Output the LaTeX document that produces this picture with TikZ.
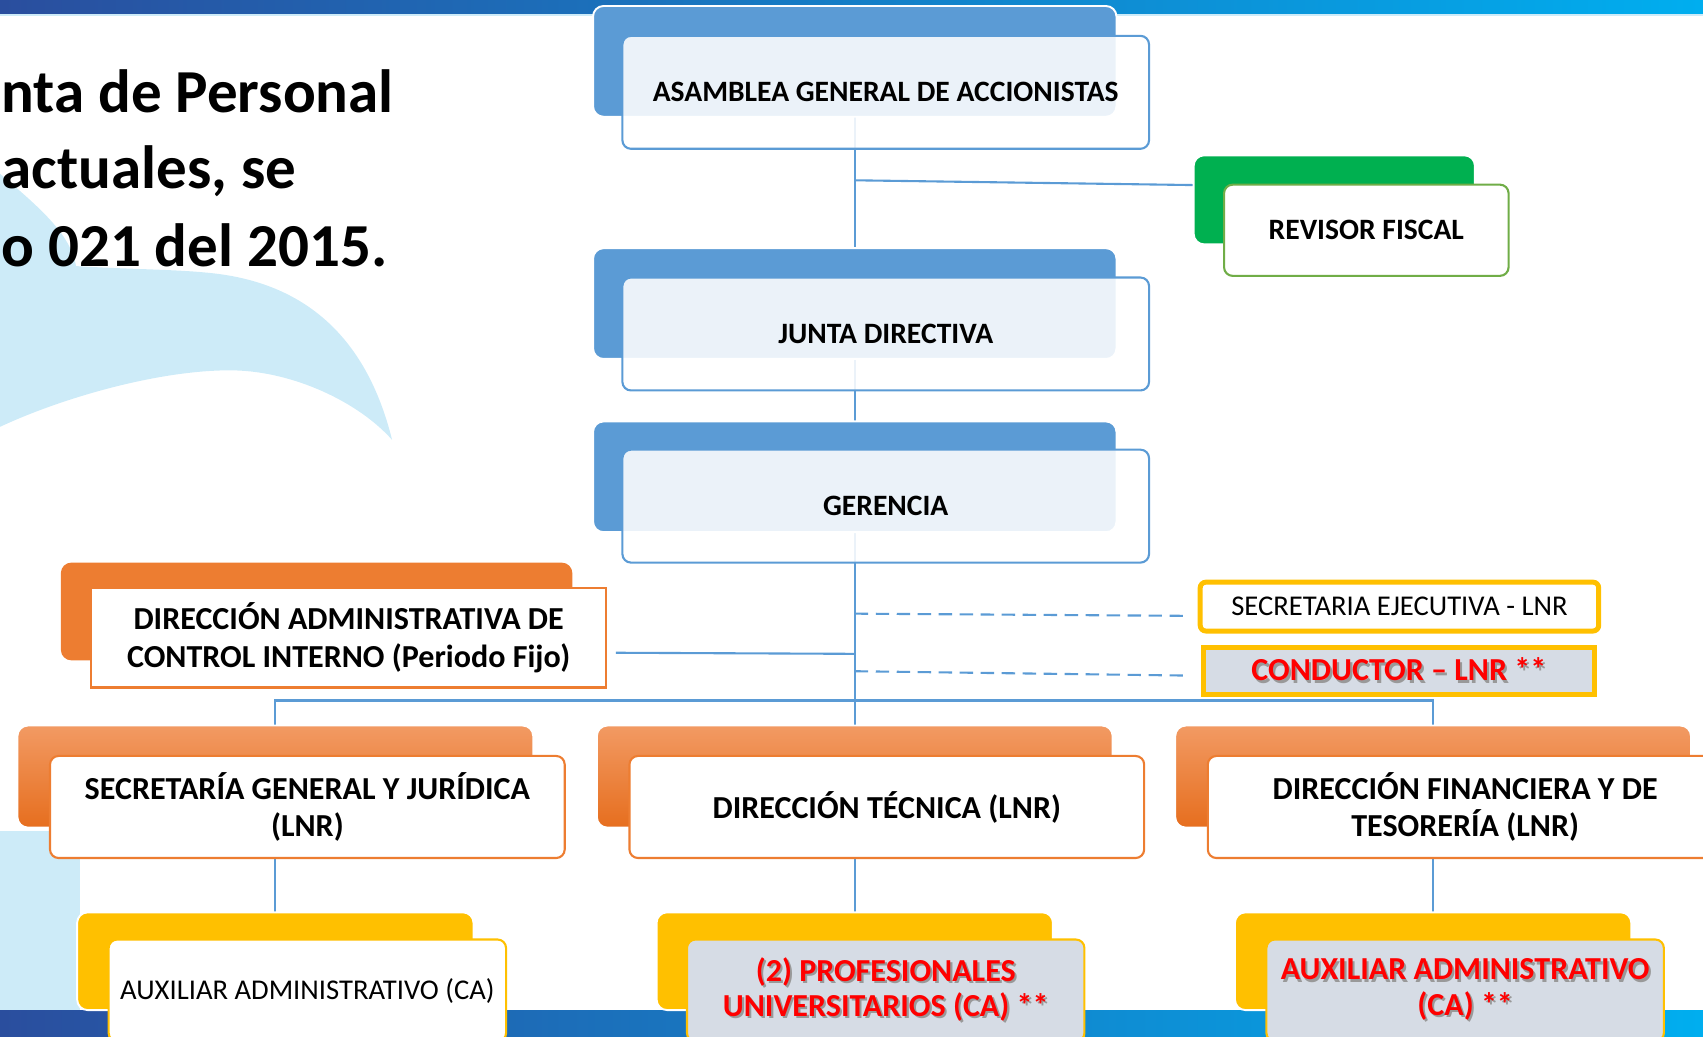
\documentclass[tikz,border=0pt]{standalone}
\usepackage{fontspec}
\setmainfont{Carlito}
\usetikzlibrary{positioning,backgrounds}
\definecolor{azul}{HTML}{5B9BD5}
\definecolor{verde}{HTML}{00B050}
\definecolor{verdeclaro}{HTML}{70AD47}
\definecolor{naranja}{HTML}{ED7D31}
\definecolor{naranjaclaro}{HTML}{F29A63}
\definecolor{naranjaoscuro}{HTML}{E66E1E}
\definecolor{amarillo}{HTML}{FFC000}
\definecolor{grisazul}{HTML}{D6DCE5}
\definecolor{rojo}{HTML}{FF0000}
\definecolor{celeste}{HTML}{CDEBF8}
\definecolor{bandaosc}{HTML}{2A4E9E}
\definecolor{bandaclara}{HTML}{00AEEF}
\newcommand{\caja}{\fontsize{15.5}{18.5}\selectfont\bfseries}
\newcommand{\cajanar}{\fontsize{16.8}{19}\selectfont\bfseries}
\newcommand{\cajareg}{\fontsize{15}{18}\selectfont}
\newcommand{\cajaroja}{\fontsize{16.8}{18.5}\selectfont\bfseries}
\newcommand{\sombra}[1]{\makebox[0pt][l]{\kern1.1pt\raisebox{-1.1pt}{\textcolor{black!40}{#1}}}#1}
\tikzset{
	conector/.style={draw=azul,line width=1.1pt},
	punteada/.style={dash pattern=on 7pt off 4pt},
	fondo/.style={rounded corners=5.5pt,draw=white,line width=1pt,inner sep=0pt,outer sep=0pt},
	frente/.style={rounded corners=4.5pt,line width=1.1pt,inner sep=0pt,outer sep=0pt,align=center,font=\caja},
	bluebk/.style={fondo,fill=azul,minimum width=9.64cm,minimum height=2.04cm},
	bluefr/.style={frente,draw=azul,fill=white,fill opacity=0.88,text opacity=1,minimum width=9.7cm,minimum height=2.08cm},
	greenbk/.style={fondo,fill=verde,minimum width=5.18cm,minimum height=1.64cm},
	greenfr/.style={frente,draw=verdeclaro,fill=white,minimum width=5.24cm,minimum height=1.68cm},
	ciback/.style={fondo,draw=none,fill=naranja,minimum width=9.42cm,minimum height=1.8cm},
	cifront/.style={frente,rounded corners=0pt,draw=naranja,fill=white,minimum width=9.48cm,minimum height=1.84cm,font=\fontsize{16.8}{20}\selectfont\bfseries},
	orbk/.style={fondo,top color=naranjaclaro,bottom color=naranjaoscuro,minimum width=9.5cm,minimum height=1.88cm},
	orfr/.style={frente,draw=naranja,fill=white,minimum width=9.48cm,minimum height=1.88cm,font=\cajanar},
	ylbk/.style={fondo,fill=amarillo,minimum width=7.3cm,minimum height=1.8cm},
	ylfr/.style={frente,draw=amarillo,fill=white,minimum width=7.32cm,minimum height=1.88cm,font=\cajareg},
	ylgr/.style={frente,draw=amarillo,fill=grisazul,text=rojo,minimum width=7.32cm,minimum height=1.88cm,font=\cajaroja},
	secbox/.style={frente,rounded corners=3pt,draw=amarillo,line width=2.6pt,fill=white,minimum width=7.34cm,minimum height=0.9cm,font=\cajareg},
	condbox/.style={frente,rounded corners=0pt,draw=amarillo,line width=2.6pt,fill=grisazul,text=rojo,minimum width=7.2cm,minimum height=0.86cm,font=\cajaroja},
	titulo/.style={anchor=base east,inner sep=0pt,font=\fontsize{32}{38}\selectfont\bfseries}
}

\begin{document}
\begin{tikzpicture}[x=0.02cm,y=-0.02cm]
	\useasboundingbox (0,0) rectangle (1568,954);

	\node[titulo,anchor=base west] (tit1) at (1,104) {nta de Personal};
	\node[titulo] (tit2) at (273,174) {actuales, se};
	\node[titulo] (tit3) at (357,245) {o 021 del 2015.};

	\node[bluebk] (asambleaB) at (787,56.5) {};
	\node[bluefr] (asamblea) at (815.5,85) {ASAMBLEA GENERAL DE ACCIONISTAS};
	\node[greenbk] (revisorB) at (1228.5,184) {};
	\node[greenfr] (revisor) at (1258,212) {REVISOR FISCAL};
	\node[bluebk] (juntaB) at (787,279.5) {};
	\node[bluefr] (junta) at (815.5,307.5) {JUNTA DIRECTIVA};
	\node[bluebk] (gerenciaB) at (787,439) {};
	\node[bluefr] (gerencia) at (815.5,466) {GERENCIA};

	\node[ciback] (controlB) at (291.5,563) {};
	\node[cifront] (control) at (321,587) {DIRECCIÓN ADMINISTRATIVA DE\\CONTROL INTERNO (Periodo Fijo)};
	\node[secbox] (secejec) at (1288.5,558.5) {SECRETARIA EJECUTIVA - LNR};
	\node[condbox] (conductor) at (1288,617.5) {\sombra{CONDUCTOR – LNR **}};

	\node[orbk] (secgenB) at (253.5,715) {};
	\node[orfr] (secgen) at (283,743) {SECRETARÍA GENERAL Y JURÍDICA\\(LNR)};
	\node[orbk] (tecnicaB) at (787,715) {};
	\node[orfr] (tecnica) at (816.5,743) {DIRECCIÓN TÉCNICA (LNR)};
	\node[orbk] (financB) at (1319.5,715) {};
	\node[orfr] (financ) at (1349,743) {DIRECCIÓN FINANCIERA Y DE\\TESORERÍA (LNR)};

	\node[ylbk] (auxSGB) at (253.5,885) {};
	\node[ylfr] (auxSG) at (283,912) {AUXILIAR ADMINISTRATIVO (CA)};
	\node[ylbk] (profB) at (787,885) {};
	\node[ylgr] (prof) at (815.5,912) {\sombra{(2) PROFESIONALES}\\\sombra{UNIVERSITARIOS (CA) **}};
	\node[ylbk] (auxFB) at (1319.5,885) {};
	\node[ylgr] (auxF) at (1349,912) {\sombra{AUXILIAR ADMINISTRATIVO}\\\sombra{(CA) **}};

	\begin{scope}[on background layer]
		% fondo de la diapositiva
		\fill[celeste] (0,160) .. controls (35,190) and (65,215) .. (70,245)
			.. controls (120,248) and (160,248) .. (190,251)
			.. controls (270,258) and (335,300) .. (361,405)
			.. controls (330,370) and (270,342) .. (215,341)
			.. controls (150,340) and (60,365) .. (0,393) -- cycle;
		\fill[celeste] (0,765) rectangle (74,931);
		\shade[left color=bandaosc,right color=bandaclara] (0,0) rectangle (1568,13);
		\fill[celeste] (0,13) rectangle (1568,15);
		\shade[left color=bandaosc,right color=bandaclara] (0,930) rectangle (1568,954);

		\coordinate (rfA) at (787,166);
		\coordinate (ciA) at (787,602);
		\coordinate (seA) at (787,565);
		\coordinate (coA) at (787,618);
		\coordinate (bus) at (787,645);

		\draw[conector] (asambleaB.south) -- (juntaB.north);
		\draw[conector] (rfA) -- (revisorB.174);
		\draw[conector] (juntaB.south) -- (gerenciaB.north);
		\draw[conector] (gerenciaB.south) -- (tecnicaB.north);
		\draw[conector] ([xshift=0.18cm,yshift=-0.28cm]control.east) -- (ciA);
		\draw[conector,punteada] (seA) -- ([xshift=-0.3cm,yshift=-0.17cm]secejec.west);
		\draw[conector,punteada] (coA) -- ([xshift=-0.32cm,yshift=-0.09cm]conductor.west);
		\draw[conector] (secgenB.north) |- (bus) -| (financB.north);
		\draw[conector] (secgenB.south) -- (auxSGB.north);
		\draw[conector] (tecnicaB.south) -- (profB.north);
		\draw[conector] (financB.south) -- (auxFB.north);
	\end{scope}
\end{tikzpicture}
\end{document}
